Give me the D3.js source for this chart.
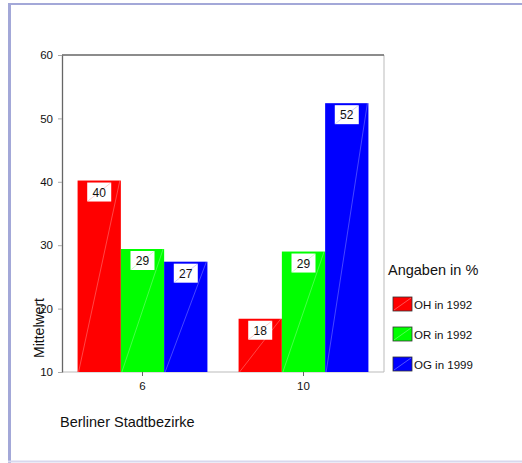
<!DOCTYPE html>
<html>
<head>
<meta charset="utf-8">
<script src="https://cdn.jsdelivr.net/npm/d3@7"></script>
<style>
  body { margin: 0; background: #fff; }
  svg text { font-family: "Liberation Sans", Arial, sans-serif; fill: #111; }
</style>
</head>
<body>
<div id="chart"></div>
<script>
// data
const districts = ['6', '10'];
const seriesNames = ['OH in 1992', 'OR in 1992', 'OG in 1999'];
const seriesColors = ['#ff0000', '#00ff00', '#0000ff'];
const valuesOH = [40.2, 18.4];
const valuesOR = [29.4, 29.0];
const valuesOG = [27.4, 52.4];
const yTicks = [10, 20, 30, 40, 50, 60];

const allSeries = [valuesOH, valuesOR, valuesOG];

const dims = {width: 522, height: 463};
const plot = {left: 62, top: 55, right: 384, bottom: 372};

const svg = d3.select('#chart')
    .append('svg')
    .attr('width', dims.width)
    .attr('height', dims.height);

// outer frame
svg.append('line').attr('x1', 8).attr('x2', dims.width).attr('y1', 4).attr('y2', 4)
    .attr('stroke', '#a3a8d8').attr('stroke-width', 2);
svg.append('line').attr('x1', 9.5).attr('x2', 9.5).attr('y1', 3).attr('y2', 463)
    .attr('stroke', '#a3a8d8').attr('stroke-width', 3);
svg.append('line').attr('x1', 8).attr('x2', dims.width).attr('y1', 461.5).attr('y2', 461.5)
    .attr('stroke', '#d8d8ee').attr('stroke-width', 2);

const y = d3.scaleLinear().domain([10, 60]).range([plot.bottom, plot.top]);

const x0 = d3.scaleBand()
    .domain(districts)
    .range([plot.left, plot.right])
    .padding(0);

const x1 = d3.scaleBand()
    .domain(seriesNames)
    .range([0, x0.bandwidth()])
    .paddingInner(0)
    .paddingOuter(0.36);

// plot border
svg.append('line').attr('x1', plot.right).attr('x2', plot.right).attr('y1', plot.top).attr('y2', plot.bottom)
    .attr('stroke', '#bbb');
svg.append('line').attr('x1', plot.left).attr('x2', plot.right).attr('y1', plot.bottom).attr('y2', plot.bottom)
    .attr('stroke', '#bbb');
svg.append('line').attr('x1', plot.left).attr('x2', plot.right).attr('y1', plot.top).attr('y2', plot.top)
    .attr('stroke', '#666').attr('stroke-width', 1.3);

// bars
const barData = [];
districts.forEach((d, i) => {
    seriesNames.forEach((s, j) => {
        barData.push({district: d, series: s, color: seriesColors[j], value: allSeries[j][i]});
    });
});

const bars = svg.append('g').selectAll('g')
    .data(barData)
    .enter()
    .append('g')
    .attr('transform', d => `translate(${x0(d.district) + x1(d.series)}, 0)`);

bars.append('rect')
    .attr('x', 0)
    .attr('y', d => y(d.value))
    .attr('width', x1.bandwidth())
    .attr('height', d => y.range()[0] - y(d.value))
    .attr('fill', d => d.color);

// faint texture line
bars.append('line')
    .attr('x1', 1)
    .attr('y1', plot.bottom)
    .attr('x2', x1.bandwidth() - 1)
    .attr('y2', d => y(d.value))
    .attr('stroke', '#fff')
    .attr('stroke-opacity', 0.35)
    .attr('stroke-width', 0.8);

const boxW = 24, boxH = 19;
bars.append('rect')
    .attr('x', x1.bandwidth() / 2 - boxW / 2)
    .attr('y', d => y(d.value) + 2)
    .attr('width', boxW)
    .attr('height', boxH)
    .attr('fill', '#fff');

bars.append('line')
    .attr('x1', x1.bandwidth() / 2 - boxW / 2)
    .attr('y1', d => y(d.value) + 2 + boxH)
    .attr('x2', x1.bandwidth() / 2 + boxW / 2)
    .attr('y2', d => y(d.value) + 2)
    .attr('stroke', d => d.color)
    .attr('stroke-opacity', 0.25)
    .attr('stroke-width', 0.8);

bars.append('text')
    .attr('x', x1.bandwidth() / 2)
    .attr('y', d => y(d.value) + 2 + boxH / 2 + 4.5)
    .attr('text-anchor', 'middle')
    .style('font-size', '12px')
    .text(d => Math.round(d.value));

// y axis
const yAxis = d3.axisLeft(y).tickValues(yTicks).tickSize(4).tickSizeOuter(0).tickPadding(5);
const gy = svg.append('g')
    .attr('transform', `translate(${plot.left}, 0)`)
    .call(yAxis);
gy.select('.domain').attr('stroke', '#666').attr('stroke-width', 1.3);
gy.selectAll('.tick line').attr('stroke', '#aaa');
gy.selectAll('.tick text').style('font-size', '11.5px').style('font-family', '"Liberation Sans", Arial, sans-serif').attr('fill', '#111');

// x axis
const xAxis = d3.axisBottom(x0).tickSize(4).tickSizeOuter(0).tickPadding(6);
const gx = svg.append('g')
    .attr('transform', `translate(0, ${plot.bottom})`)
    .call(xAxis);
gx.select('.domain').remove();
gx.selectAll('.tick line').attr('stroke', '#666');
gx.selectAll('.tick text').style('font-size', '11.5px').style('font-family', '"Liberation Sans", Arial, sans-serif').attr('fill', '#111');

// axis titles
svg.append('text')
    .attr('transform', 'translate(44, 328) rotate(-90)')
    .attr('text-anchor', 'middle')
    .style('font-size', '14px')
    .text('Mittelwert');

svg.append('text')
    .attr('x', 60)
    .attr('y', 427)
    .style('font-size', '14.5px')
    .text('Berliner Stadtbezirke');

// legend
svg.append('text')
    .attr('x', 388)
    .attr('y', 275)
    .style('font-size', '14.5px')
    .text('Angaben in %');

const legend = svg.append('g').selectAll('g')
    .data(seriesNames)
    .enter()
    .append('g')
    .attr('transform', (d, i) => `translate(393, ${297 + i * 30})`);

legend.append('rect')
    .attr('width', 19)
    .attr('height', 14)
    .attr('fill', (d, i) => seriesColors[i])
    .attr('stroke', '#333')
    .attr('stroke-width', 0.8);

legend.append('line')
    .attr('x1', 1).attr('y1', 13).attr('x2', 18).attr('y2', 1)
    .attr('stroke', '#fff').attr('stroke-opacity', 0.4).attr('stroke-width', 0.8);

legend.append('text')
    .attr('x', 21)
    .attr('y', 11.5)
    .style('font-size', '11.5px')
    .text(d => d);
</script>
</body>
</html>
